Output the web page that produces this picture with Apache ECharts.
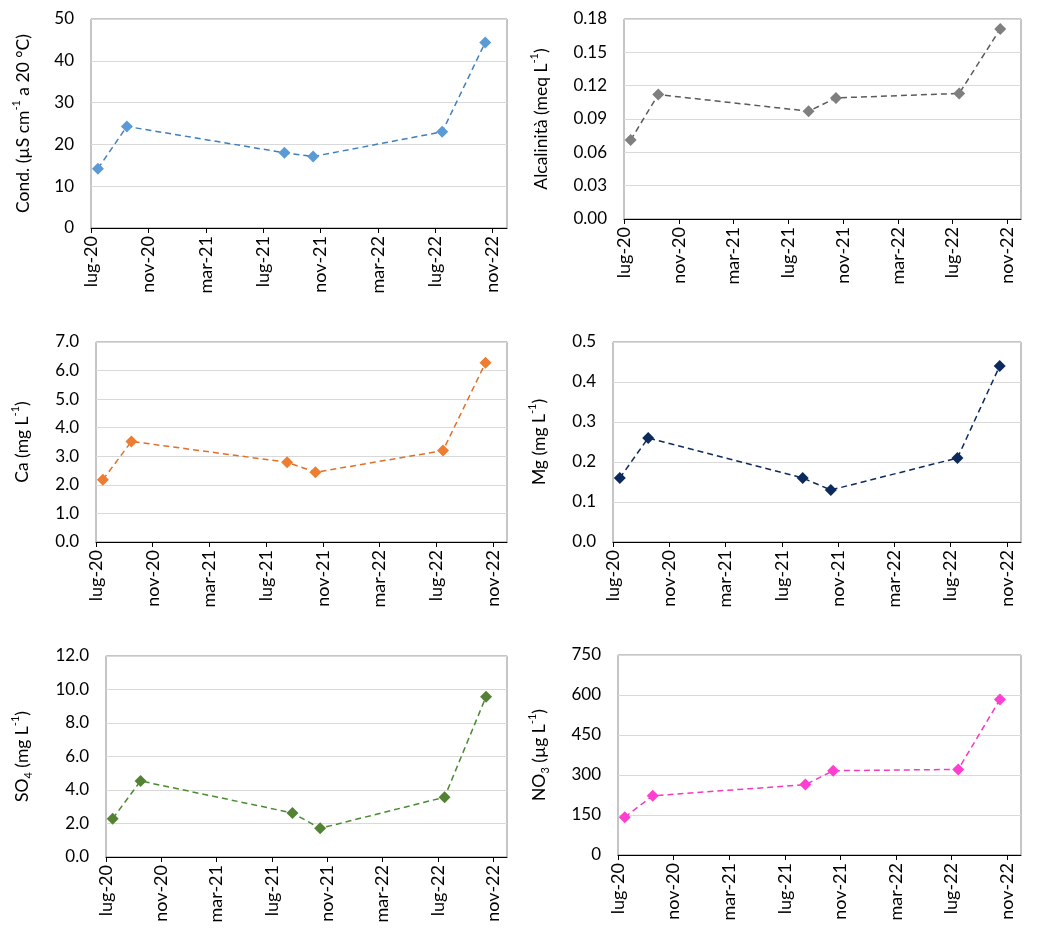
<!DOCTYPE html>
<html>
<head>
<meta charset="utf-8">
<script src="https://cdn.jsdelivr.net/npm/echarts@6/dist/echarts.min.js"></script>
<style>
html,body{margin:0;padding:0;background:#fff;}
#chart{width:1048px;height:938px;}
</style>
</head>
<body>
<div id="chart"></div>
<script>
// ---- data ----
const sampleDates = ['2020-07-16', '2020-09-16', '2021-08-16', '2021-10-16', '2022-07-16', '2022-10-16'];
const xTickLabels = ['lug-20', 'nov-20', 'mar-21', 'lug-21', 'nov-21', 'mar-22', 'lug-22', 'nov-22'];
const condValues = [14.2, 24.3, 18.0, 17.1, 23.0, 44.4];
const alkValues = [0.071, 0.112, 0.097, 0.109, 0.113, 0.171];
const caValues = [2.18, 3.52, 2.79, 2.44, 3.20, 6.27];
const mgValues = [0.16, 0.26, 0.16, 0.13, 0.21, 0.44];
const so4Values = [2.29, 4.54, 2.63, 1.71, 3.57, 9.57];
const no3Values = [142, 222, 264, 316, 321, 583];

// months elapsed since 1 July 2020 (the axis origin, "lug-20")
function monthIndex(s) {
  const [y, m, d] = s.split('-').map(Number);
  const dim = new Date(y, m, 0).getDate();
  return (y - 2020) * 12 + (m - 7) + (d - 1) / dim;
}
const xs = sampleDates.map(monthIndex);

const FONT = 'Lato, "Open Sans", sans-serif';

const panels = [
  {vals: condValues, color: '#5b9bd5', line: '#3f7fbf', min: 0, max: 50, step: 10, dec: 0,
   name: 'Cond. (µS cm{sup|-1} a 20 °C)', grid: {left: 91, top: 19, width: 416, height: 209}, gap: 56},
  {vals: alkValues, color: '#7f7f7f', line: '#5a5a5a', min: 0, max: 0.18, step: 0.03, dec: 2,
   name: 'Alcalinità (meq L{sup|-1})', grid: {left: 624, top: 19, width: 397, height: 200}, gap: 71},
  {vals: caValues, color: '#ed7d31', line: '#e07028', min: 0, max: 7, step: 1, dec: 1,
   name: 'Ca (mg L{sup|-1})', grid: {left: 96, top: 342, width: 411, height: 200}, gap: 62},
  {vals: mgValues, color: '#0d2a5c', line: '#0d2a5c', min: 0, max: 0.5, step: 0.1, dec: 1,
   name: 'Mg (mg L{sup|-1})', grid: {left: 613, top: 342, width: 408, height: 200}, gap: 62},
  {vals: so4Values, color: '#548235', line: '#4a8a32', min: 0, max: 12, step: 2, dec: 1,
   name: 'SO{sub|4} (mg L{sup|-1})', grid: {left: 106, top: 656, width: 401, height: 201}, gap: 72},
  {vals: no3Values, color: '#ff3fcf', line: '#f23ac4', min: 0, max: 750, step: 150, dec: 0,
   name: 'NO{sub|3} (µg L{sup|-1})', grid: {left: 618, top: 655, width: 403, height: 200}, gap: 67}
];

const xTickVals = xTickLabels.map((_, i) => i * 4);

const option = {
  animation: false,
  backgroundColor: '#fff',
  grid: [], xAxis: [], yAxis: [], series: []
};

panels.forEach((p, i) => {
  option.grid.push(Object.assign({show: true, borderColor: '#8c8c8c', borderWidth: 1, containLabel: false}, p.grid));
  option.xAxis.push({
    type: 'value', gridIndex: i, min: 0, max: 29, interval: 4,
    axisLine: {show: true, lineStyle: {color: '#000', width: 1}},
    axisTick: {show: true, length: 5, lineStyle: {color: '#000'}, customValues: xTickVals},
    axisLabel: {
      show: true, rotate: 90, margin: 8, fontSize: 18, fontFamily: FONT, color: '#000',
      customValues: xTickVals,
      formatter: v => xTickLabels[Math.round(v / 4)] || ''
    },
    splitLine: {show: false}
  });
  option.yAxis.push({
    type: 'value', gridIndex: i, min: p.min, max: p.max, interval: p.step,
    axisLine: {show: false}, axisTick: {show: false},
    axisLabel: {fontSize: 17, fontFamily: FONT, color: '#000', margin: 17,
      formatter: v => Number(v).toFixed(p.dec)},
    splitLine: {show: true, lineStyle: {color: '#d9d9d9', width: 1}},
    name: p.name, nameLocation: 'middle', nameGap: p.gap,
    nameTextStyle: {
      fontSize: 17.5, fontFamily: FONT, color: '#000', lineHeight: 24,
      rich: {
        sup: {fontSize: 11, fontFamily: FONT, color: '#000', verticalAlign: 'top', lineHeight: 13, padding: [0, 0, 6, 0]},
        sub: {fontSize: 11, fontFamily: FONT, color: '#000', verticalAlign: 'bottom', lineHeight: 13}
      }
    }
  });
  option.series.push({
    type: 'line', xAxisIndex: i, yAxisIndex: i,
    data: xs.map((x, k) => [x, p.vals[k]]),
    symbol: 'diamond', symbolSize: 12, showSymbol: true,
    itemStyle: {color: p.color},
    lineStyle: {color: p.line, width: 1.5, type: [6, 4]},
    z: 3
  });
});

const chart = echarts.init(document.getElementById('chart'), null, {renderer: 'canvas'});
chart.setOption(option);
</script>
</body>
</html>
